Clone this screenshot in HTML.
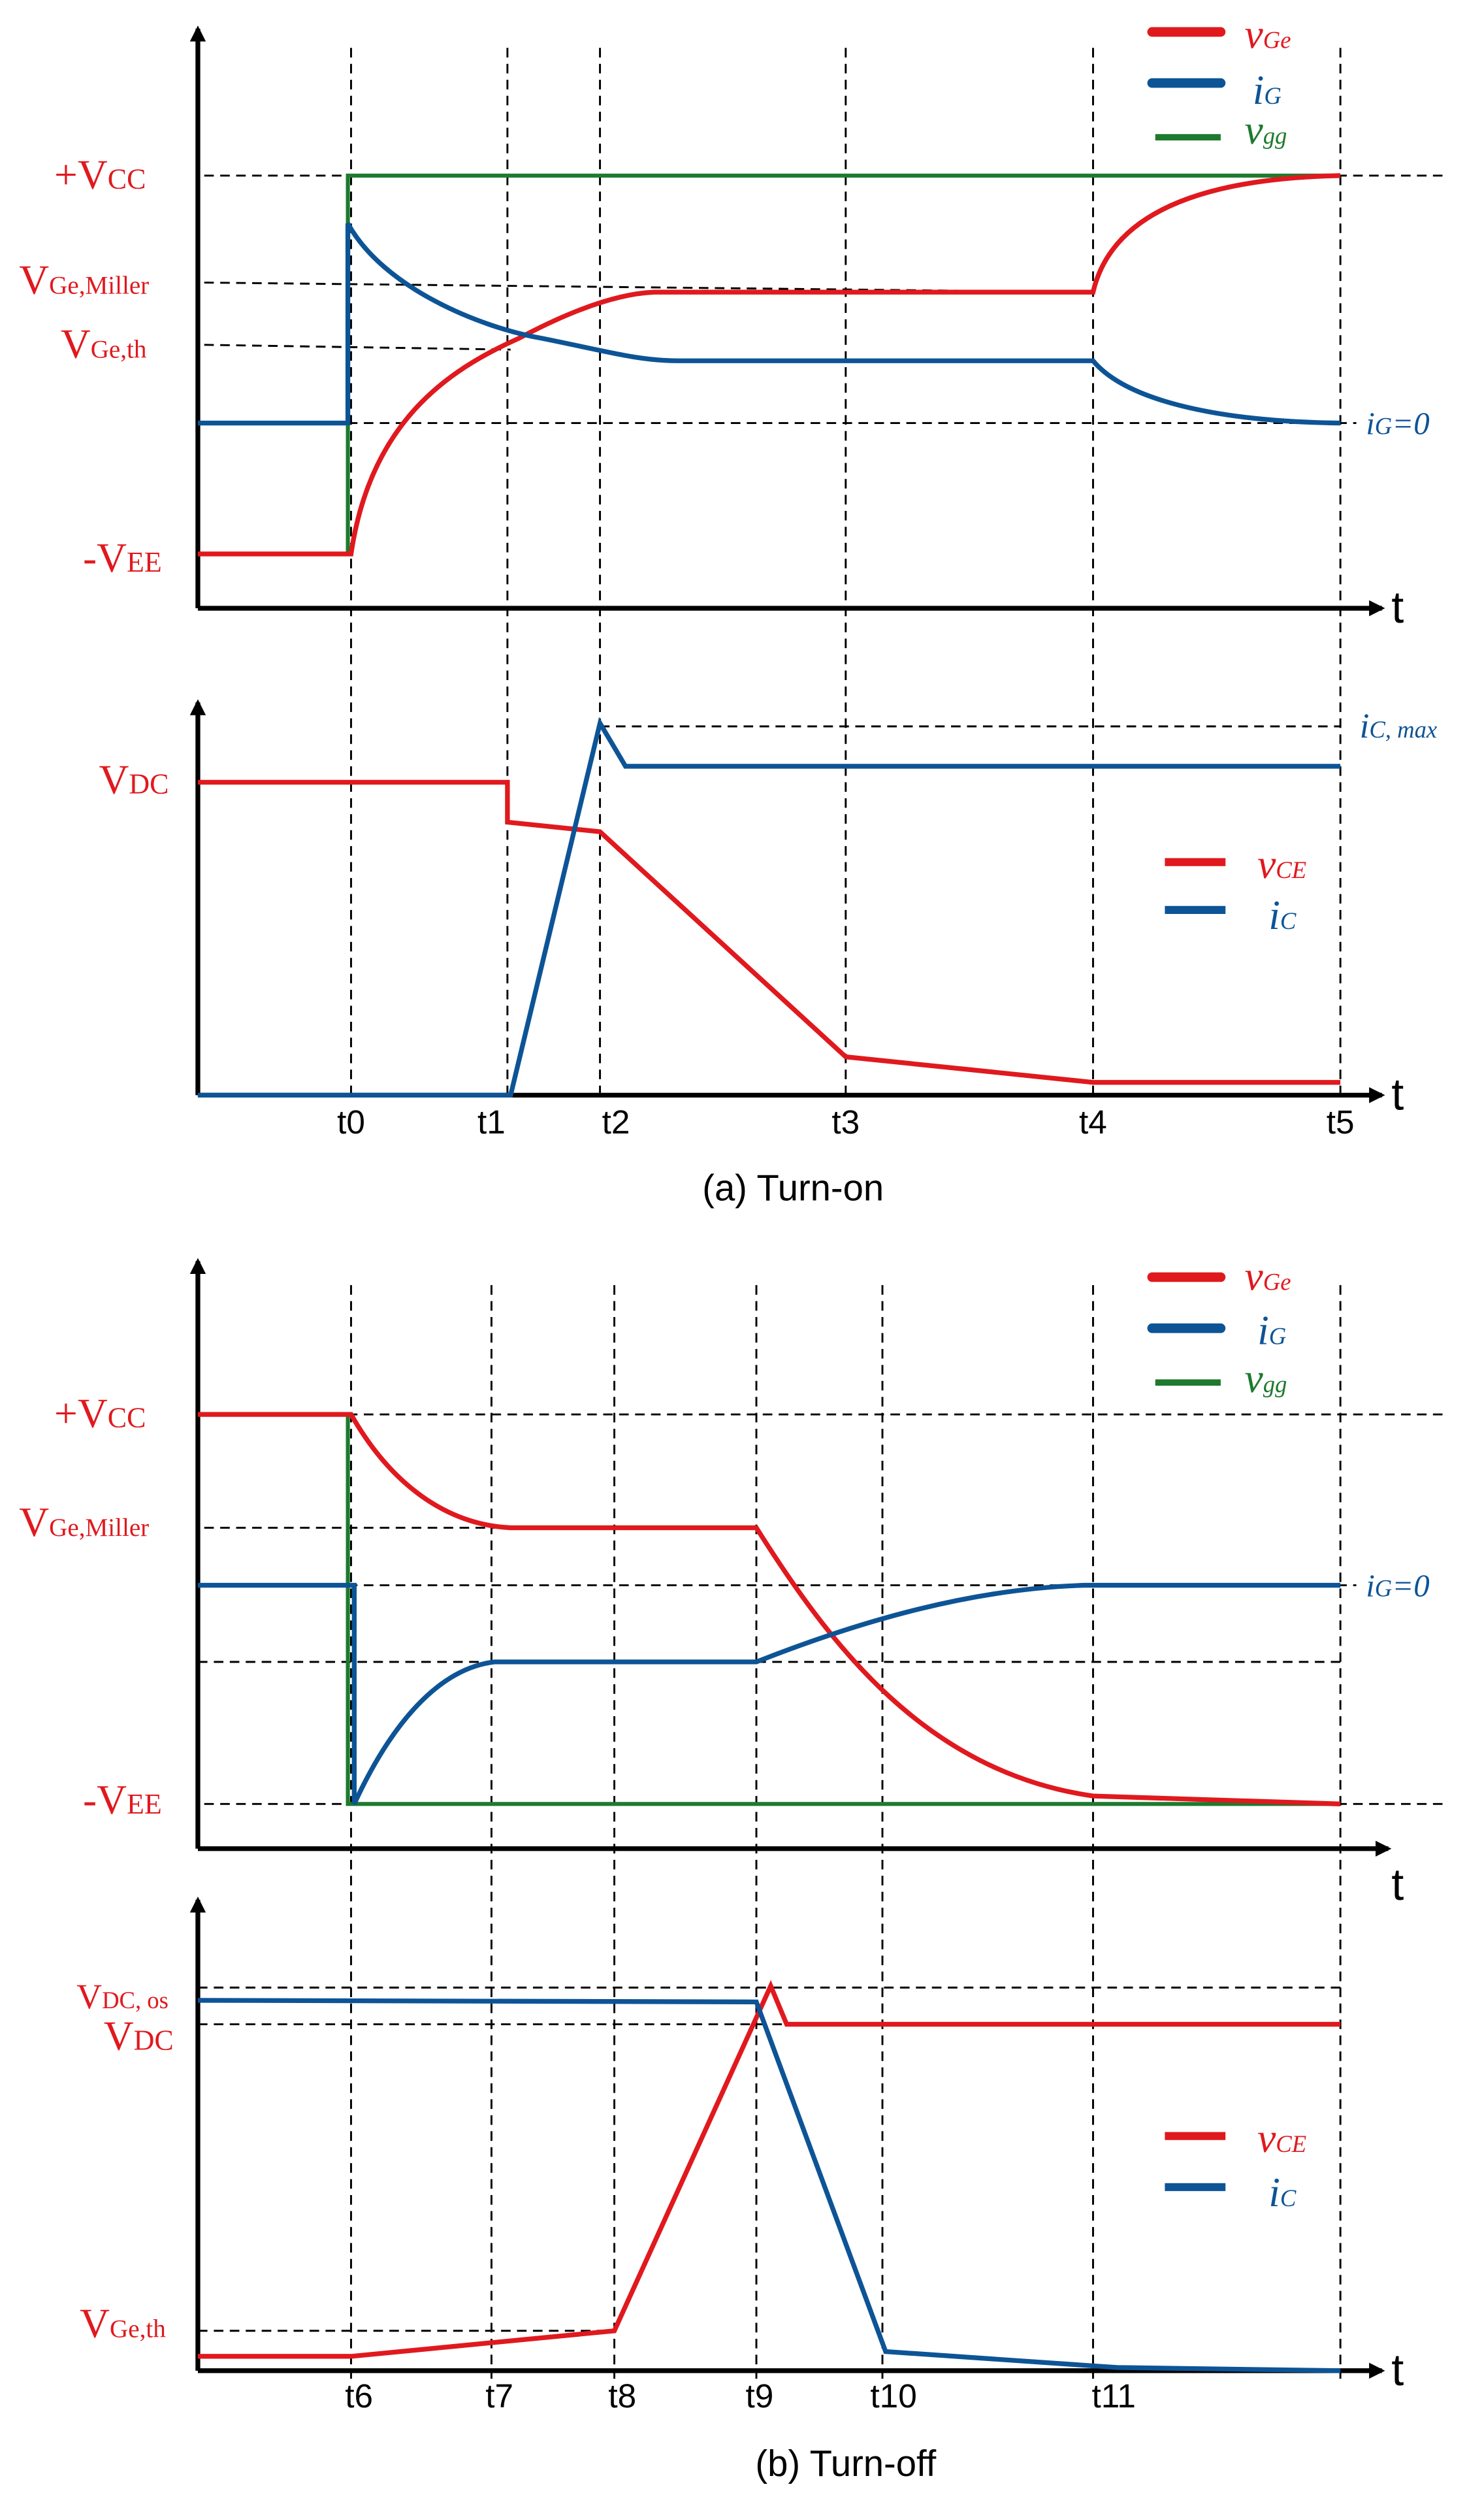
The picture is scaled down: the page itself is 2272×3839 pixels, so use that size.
<!DOCTYPE html>
<html><head><meta charset="utf-8"><style>html,body{margin:0;padding:0;background:#fff}svg{display:block}</style></head>
<body>
<svg width="2272" height="3839" viewBox="0 0 930 1571" preserveAspectRatio="none" xmlns="http://www.w3.org/2000/svg">
<defs>
<marker id="ar" markerWidth="10" markerHeight="10" refX="8" refY="5" orient="auto" markerUnits="userSpaceOnUse"><path d="M0,0 L10,5 L0,10 z" fill="#000"/></marker>
</defs>
<g font-family="Liberation Serif, serif">
<!-- Panel 1 -->
<g stroke="#000" stroke-width="1.2" stroke-dasharray="6,4" fill="none">
<line x1="128" y1="110" x2="905" y2="110"/>
<line x1="128" y1="177" x2="685" y2="183"/>
<line x1="128" y1="216" x2="320" y2="219"/>
<line x1="128" y1="265" x2="850" y2="265"/>
<line x1="220" y1="30" x2="220" y2="690"/>
<line x1="318" y1="30" x2="318" y2="690"/>
<line x1="376" y1="30" x2="376" y2="690"/>
<line x1="530" y1="30" x2="530" y2="690"/>
<line x1="685" y1="30" x2="685" y2="690"/>
<line x1="840" y1="30" x2="840" y2="690"/>
<line x1="376" y1="455" x2="840" y2="455"/>
</g>
<line x1="124" y1="381" x2="124" y2="18" stroke="#000" stroke-width="3" marker-end="url(#ar)"/>
<line x1="124" y1="381" x2="866" y2="381" stroke="#000" stroke-width="3" marker-end="url(#ar)"/>
<polyline points="124,347 218,347 218,110 840,110" fill="none" stroke="#1e7a2e" stroke-width="2.5"/>
<path d="M124,347 L220,347 C232,265 280,232 325,212 C355,196 385,184 410,183 L685,183 C695,140 740,112 840,110" fill="none" stroke="#e0191e" stroke-width="3"/>
<path d="M124,265 L218,265 L218,140 C240,180 300,205 340,212 C380,220 400,226 425,226 L685,226 C705,250 760,264 840,265" fill="none" stroke="#0d5496" stroke-width="3"/>
<g fill="#e0191e" font-size="26">
<text x="34" y="118">+V<tspan font-size="18">CC</tspan></text>
<text x="12" y="184">V<tspan font-size="16">Ge,Miller</tspan></text>
<text x="38" y="224">V<tspan font-size="16">Ge,th</tspan></text>
<text x="52" y="358">-V<tspan font-size="18">EE</tspan></text>
<text x="62" y="497">V<tspan font-size="18">DC</tspan></text>
</g>
<text x="856" y="272" fill="#0d5496" font-size="20" font-style="italic">i<tspan font-size="15">G</tspan>=0</text>
<text x="852" y="462" fill="#0d5496" font-size="22" font-style="italic">i<tspan font-size="15">C, max</tspan></text>
<text x="872" y="390" font-size="28" font-family="Liberation Sans, sans-serif">t</text>
<line x1="722" y1="20" x2="765" y2="20" stroke="#e0191e" stroke-width="6" stroke-linecap="round"/>
<text x="780" y="30" fill="#e0191e" font-size="26" font-style="italic">v<tspan font-size="15">Ge</tspan></text>
<line x1="722" y1="52" x2="765" y2="52" stroke="#0d5496" stroke-width="6" stroke-linecap="round"/>
<text x="785" y="65" fill="#0d5496" font-size="26" font-style="italic">i<tspan font-size="15">G</tspan></text>
<line x1="724" y1="86" x2="765" y2="86" stroke="#1e7a2e" stroke-width="4"/>
<text x="780" y="90" fill="#1e7a2e" font-size="26" font-style="italic">v<tspan font-size="15">gg</tspan></text>
<!-- Panel 2 -->
<line x1="124" y1="686" x2="124" y2="440" stroke="#000" stroke-width="3" marker-end="url(#ar)"/>
<line x1="124" y1="686" x2="866" y2="686" stroke="#000" stroke-width="3" marker-end="url(#ar)"/>
<polyline points="124,490 318,490 318,515 376,521 530,662 685,678 840,678" fill="none" stroke="#e0191e" stroke-width="3"/>
<polyline points="124,686 320,686 376,453 392,480 840,480" fill="none" stroke="#0d5496" stroke-width="3"/>
<line x1="730" y1="540" x2="768" y2="540" stroke="#e0191e" stroke-width="5"/>
<text x="788" y="550" fill="#e0191e" font-size="26" font-style="italic">v<tspan font-size="15">CE</tspan></text>
<line x1="730" y1="570" x2="768" y2="570" stroke="#0d5496" stroke-width="5"/>
<text x="795" y="582" fill="#0d5496" font-size="26" font-style="italic">i<tspan font-size="15">C</tspan></text>
<text x="872" y="695" font-size="28" font-family="Liberation Sans, sans-serif">t</text>
<g font-family="Liberation Sans, sans-serif" font-size="21" text-anchor="middle">
<text x="220" y="710">t0</text><text x="308" y="710">t1</text><text x="386" y="710">t2</text>
<text x="530" y="710">t3</text><text x="685" y="710">t4</text><text x="840" y="710">t5</text>
<text x="497" y="752" font-size="23">(a) Turn-on</text>
</g>
<!-- Panel 3 -->
<g stroke="#000" stroke-width="1.2" stroke-dasharray="6,4" fill="none">
<line x1="128" y1="886" x2="905" y2="886"/>
<line x1="128" y1="957" x2="475" y2="957"/>
<line x1="128" y1="993" x2="850" y2="993"/>
<line x1="124" y1="1041" x2="840" y2="1041"/>
<line x1="128" y1="1130" x2="905" y2="1130"/>
<line x1="220" y1="805" x2="220" y2="1490"/>
<line x1="308" y1="805" x2="308" y2="1490"/>
<line x1="385" y1="805" x2="385" y2="1490"/>
<line x1="474" y1="805" x2="474" y2="1490"/>
<line x1="553" y1="805" x2="553" y2="1490"/>
<line x1="685" y1="805" x2="685" y2="1490"/>
<line x1="840" y1="805" x2="840" y2="1490"/>
<line x1="124" y1="1245" x2="840" y2="1245"/>
<line x1="124" y1="1268" x2="840" y2="1268"/>
<line x1="124" y1="1460" x2="385" y2="1460"/>
</g>
<line x1="124" y1="1158" x2="124" y2="790" stroke="#000" stroke-width="3" marker-end="url(#ar)"/>
<line x1="124" y1="1158" x2="870" y2="1158" stroke="#000" stroke-width="3" marker-end="url(#ar)"/>
<polyline points="124,886 218,886 218,1130 840,1130" fill="none" stroke="#1e7a2e" stroke-width="2.5"/>
<path d="M124,886 L220,886 C245,930 280,955 320,957 L474,957 C520,1030 580,1110 685,1125 L840,1130" fill="none" stroke="#e0191e" stroke-width="3"/>
<path d="M124,993 L222,993 L222,1130 C245,1080 275,1045 310,1041 L474,1041 C540,1015 610,995 680,993 L840,993" fill="none" stroke="#0d5496" stroke-width="3"/>
<g fill="#e0191e" font-size="26">
<text x="34" y="894">+V<tspan font-size="18">CC</tspan></text>
<text x="12" y="962">V<tspan font-size="16">Ge,Miller</tspan></text>
<text x="52" y="1136">-V<tspan font-size="18">EE</tspan></text>
<text x="48" y="1258" font-size="22">V<tspan font-size="15">DC, os</tspan></text>
<text x="65" y="1284">V<tspan font-size="18">DC</tspan></text>
<text x="50" y="1464">V<tspan font-size="16">Ge,th</tspan></text>
</g>
<text x="856" y="1000" fill="#0d5496" font-size="20" font-style="italic">i<tspan font-size="15">G</tspan>=0</text>
<line x1="722" y1="800" x2="765" y2="800" stroke="#e0191e" stroke-width="6" stroke-linecap="round"/>
<text x="780" y="808" fill="#e0191e" font-size="26" font-style="italic">v<tspan font-size="15">Ge</tspan></text>
<line x1="722" y1="832" x2="765" y2="832" stroke="#0d5496" stroke-width="6" stroke-linecap="round"/>
<text x="788" y="842" fill="#0d5496" font-size="26" font-style="italic">i<tspan font-size="15">G</tspan></text>
<line x1="724" y1="866" x2="765" y2="866" stroke="#1e7a2e" stroke-width="4"/>
<text x="780" y="872" fill="#1e7a2e" font-size="26" font-style="italic">v<tspan font-size="15">gg</tspan></text>
<text x="872" y="1190" font-size="28" font-family="Liberation Sans, sans-serif">t</text>
<!-- Panel 4 -->
<line x1="124" y1="1485" x2="124" y2="1190" stroke="#000" stroke-width="3" marker-end="url(#ar)"/>
<line x1="124" y1="1485" x2="866" y2="1485" stroke="#000" stroke-width="3" marker-end="url(#ar)"/>
<polyline points="124,1476 220,1476 385,1460 483,1244 493,1268 840,1268" fill="none" stroke="#e0191e" stroke-width="3"/>
<polyline points="124,1253 474,1254 555,1473 700,1483 840,1485" fill="none" stroke="#0d5496" stroke-width="3"/>
<line x1="730" y1="1338" x2="768" y2="1338" stroke="#e0191e" stroke-width="5"/>
<text x="788" y="1348" fill="#e0191e" font-size="26" font-style="italic">v<tspan font-size="15">CE</tspan></text>
<line x1="730" y1="1370" x2="768" y2="1370" stroke="#0d5496" stroke-width="5"/>
<text x="795" y="1382" fill="#0d5496" font-size="26" font-style="italic">i<tspan font-size="15">C</tspan></text>
<text x="872" y="1494" font-size="28" font-family="Liberation Sans, sans-serif">t</text>
<g font-family="Liberation Sans, sans-serif" font-size="21" text-anchor="middle">
<text x="225" y="1508">t6</text><text x="313" y="1508">t7</text><text x="390" y="1508">t8</text>
<text x="476" y="1508">t9</text><text x="560" y="1508">t10</text><text x="698" y="1508">t11</text>
<text x="530" y="1551" font-size="23">(b) Turn-off</text>
</g>
</g>
</svg>
</body></html>
